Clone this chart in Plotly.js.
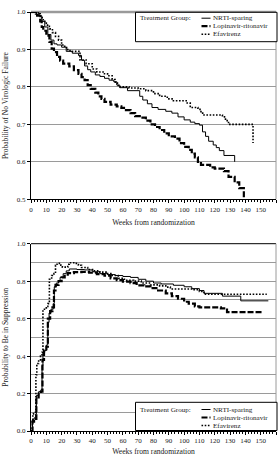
<!DOCTYPE html>
<html>
<head>
<meta charset="utf-8">
<script src="https://cdn.plot.ly/plotly-3.0.1.min.js"></script>
<style>
  html, body { margin: 0; padding: 0; background: #fff; }
  #chart { width: 280px; height: 456px; }
</style>
</head>
<body>
<div id="chart"></div>
<script>
// Kaplan-Meier estimates: probability of no virologic failure (weeks, probability)
const failNrtiWeeks = [0, 5, 7, 9, 11, 13, 15, 17, 20, 23, 27, 31, 33, 35, 37, 39, 42, 45, 48, 51, 54, 56, 58, 63, 71, 73, 76, 79, 83, 88, 92, 96, 100, 104, 107, 110, 112, 114, 116, 119, 121, 123, 126, 133];
const failNrtiProb  = [1.0, 0.99, 0.975, 0.96, 0.94, 0.925, 0.915, 0.912, 0.906, 0.895, 0.89, 0.884, 0.871, 0.856, 0.846, 0.84, 0.832, 0.828, 0.823, 0.818, 0.814, 0.805, 0.798, 0.79, 0.775, 0.765, 0.755, 0.745, 0.74, 0.735, 0.73, 0.72, 0.712, 0.706, 0.702, 0.698, 0.68, 0.668, 0.655, 0.645, 0.638, 0.63, 0.617, 0.60];

const failLpvWeeks = [0, 4, 6, 7, 8, 10, 12, 13.5, 15, 17, 19, 21, 25, 28, 31, 33, 35, 37, 39, 42, 44, 46, 48, 52, 56, 59, 62, 65, 68, 72, 75, 78, 81, 84, 87, 90, 94, 97, 100, 103, 105, 107, 109, 111, 117, 120, 126, 129, 133, 136, 139];
const failLpvProb  = [1.0, 0.99, 0.975, 0.96, 0.95, 0.937, 0.92, 0.902, 0.893, 0.88, 0.87, 0.862, 0.855, 0.845, 0.835, 0.826, 0.818, 0.805, 0.795, 0.785, 0.775, 0.768, 0.76, 0.753, 0.748, 0.744, 0.738, 0.73, 0.722, 0.718, 0.71, 0.70, 0.693, 0.685, 0.676, 0.668, 0.662, 0.65, 0.64, 0.632, 0.622, 0.612, 0.60, 0.592, 0.585, 0.582, 0.575, 0.56, 0.545, 0.53, 0.50];

const failEfvWeeks = [0, 3, 6, 8, 10, 12, 14, 16, 18, 20, 22, 24, 27, 32, 36, 40, 43, 48, 50, 53, 55, 57, 64, 70, 75, 80, 84, 89, 93, 102, 104, 109, 111, 113, 125, 127, 129, 145];
const failEfvProb  = [1.0, 0.995, 0.985, 0.975, 0.965, 0.955, 0.945, 0.935, 0.925, 0.912, 0.905, 0.897, 0.895, 0.872, 0.862, 0.848, 0.84, 0.835, 0.83, 0.82, 0.81, 0.80, 0.797, 0.795, 0.79, 0.782, 0.775, 0.768, 0.763, 0.757, 0.745, 0.74, 0.73, 0.725, 0.72, 0.71, 0.70, 0.70];
const failEfvEnd   = 0.65;

// Probability to be in suppression (weeks, probability)
const suppNrtiWeeks = [0, 1, 2, 3, 3.5, 5, 6.5, 7.2, 7.8, 9, 10.2, 11, 11.8, 13, 14.5, 15.2, 16.5, 18, 19, 21, 23, 25, 30, 35, 40, 45, 50, 55, 60, 65, 70, 75, 80, 85, 93, 100, 105, 110, 113, 125, 137, 155];
const suppNrtiProb  = [0, 0.06, 0.07, 0.09, 0.19, 0.21, 0.22, 0.35, 0.42, 0.43, 0.46, 0.58, 0.63, 0.65, 0.68, 0.77, 0.79, 0.80, 0.82, 0.84, 0.855, 0.865, 0.862, 0.86, 0.85, 0.84, 0.835, 0.83, 0.825, 0.82, 0.81, 0.80, 0.79, 0.785, 0.778, 0.77, 0.76, 0.75, 0.735, 0.72, 0.695, 0.695];

const suppLpvWeeks = [0, 1, 2, 3.5, 5, 6.5, 7.5, 8.5, 10, 11, 12.5, 14, 15, 16, 18, 20, 22, 24, 28, 33, 38, 43, 48, 52, 56, 60, 65, 69, 74, 78, 83, 88, 92, 96, 100, 103, 107, 110, 124, 128, 151];
const suppLpvProb  = [0, 0.05, 0.065, 0.18, 0.2, 0.21, 0.38, 0.43, 0.45, 0.6, 0.64, 0.66, 0.75, 0.78, 0.80, 0.82, 0.835, 0.843, 0.848, 0.85, 0.845, 0.838, 0.83, 0.815, 0.805, 0.798, 0.79, 0.778, 0.772, 0.763, 0.75, 0.735, 0.72, 0.706, 0.69, 0.68, 0.665, 0.66, 0.655, 0.635, 0.635];

const suppEfvWeeks = [0, 0.8, 1.2, 1.6, 3.2, 3.8, 5, 6.2, 7.2, 7.8, 10, 11, 12, 13.5, 15, 16, 17, 19.5, 20.5, 24, 25, 29, 31, 33, 37, 41, 45, 49, 53, 57, 61, 67, 72, 78, 84, 88, 91, 106, 110, 113, 154];
const suppEfvProb  = [0, 0.05, 0.09, 0.10, 0.30, 0.36, 0.38, 0.40, 0.42, 0.65, 0.665, 0.68, 0.81, 0.83, 0.84, 0.885, 0.895, 0.885, 0.875, 0.89, 0.898, 0.895, 0.885, 0.873, 0.862, 0.855, 0.848, 0.84, 0.83, 0.815, 0.805, 0.80, 0.79, 0.78, 0.775, 0.768, 0.758, 0.755, 0.745, 0.73, 0.73];

const groupNames = ['NRTI-sparing', 'Lopinavir-ritonavir', 'Efavirenz'];
const legendHeading = 'Treatment Group:';
const xTitle = 'Weeks from randomization';
const yTitleTop = 'Probability of No Virologic Failure';
const yTitleBottom = 'Probability to Be in Suppression';

// Line styles per treatment group
const styles = [
  { color: '#000', width: 1, dash: 'solid' },
  { color: '#000', width: 2.2, dash: '6px,2px' },
  { color: '#000', width: 1.6, dash: '1.6px,1.6px' }
];

const W = 280, H = 456;
const M = { l: 31, r: 4, t: 12, b: 25 };
const plotW = W - M.l - M.r, plotH = H - M.t - M.b;
// pixel -> paper coordinates for decorations
const px = x => (x - M.l) / plotW;
const py = y => (H - M.b - y) / plotH;

const FONT = 'Liberation Serif, Times New Roman, serif';
const TXT = '#222';

function stepTrace(x, y, style, xa, ya) {
  return {
    x: x, y: y, xaxis: xa, yaxis: ya,
    type: 'scatter', mode: 'lines',
    line: { shape: 'hv', color: style.color, width: style.width, dash: style.dash },
    showlegend: false, hoverinfo: 'skip'
  };
}

const traces = [
  stepTrace(failNrtiWeeks, failNrtiProb, styles[0], 'x', 'y'),
  stepTrace(failLpvWeeks, failLpvProb, styles[1], 'x', 'y'),
  stepTrace(failEfvWeeks.concat([failEfvWeeks[failEfvWeeks.length - 1]]), failEfvProb.concat([failEfvEnd]), styles[2], 'x', 'y'),
  stepTrace(suppNrtiWeeks, suppNrtiProb, styles[0], 'x2', 'y2'),
  stepTrace(suppLpvWeeks, suppLpvProb, styles[1], 'x2', 'y2'),
  stepTrace(suppEfvWeeks, suppEfvProb, styles[2], 'x2', 'y2')
];
traces.forEach((t, i) => { t.name = groupNames[i % 3]; });

const topDomain = [py(199.3), 1];
const botDomain = [0, py(243.7)];

function xAxis(anchor) {
  return {
    anchor: anchor, domain: [0, 1], range: [0, 160], dtick: 10, tick0: 0,
    showgrid: false, zeroline: false, showline: true, linecolor: '#000', linewidth: 1,
    ticks: 'outside', ticklen: 3, tickcolor: '#000', tickwidth: 1,
    minor: { dtick: 2, ticks: 'outside', ticklen: 2, tickcolor: '#000', showgrid: false },
    tickfont: { family: FONT, size: 7, color: TXT },
    title: { text: xTitle, font: { family: FONT, size: 7.6, color: TXT }, standoff: 6 },
    automargin: false, fixedrange: true
  };
}

const layout = {
  width: W, height: H, margin: M,
  paper_bgcolor: '#fff', plot_bgcolor: '#fff',
  showlegend: false,
  font: { family: FONT, color: TXT },
  xaxis: xAxis('y'),
  xaxis2: xAxis('y2'),
  yaxis: {
    anchor: 'x', domain: topDomain, range: [0.5, 1.0], dtick: 0.1, tick0: 0.5, tickformat: '.1f',
    showgrid: true, gridcolor: '#9a9a9a', gridwidth: 1, zeroline: false,
    showline: true, linecolor: '#000', ticks: 'outside', ticklen: 3, tickcolor: '#000',
    tickfont: { family: FONT, size: 7, color: TXT },
    title: { text: yTitleTop, font: { family: FONT, size: 7.6, color: TXT }, standoff: 7 },
    automargin: false, fixedrange: true
  },
  yaxis2: {
    anchor: 'x2', domain: botDomain, range: [0, 1.0], dtick: 0.2, tick0: 0, tickformat: '.1f',
    showgrid: true, gridcolor: '#9a9a9a', gridwidth: 1, zeroline: false,
    minor: { dtick: 0.1, showgrid: true, gridcolor: '#9a9a9a', gridwidth: 1, ticks: '' },
    showline: true, linecolor: '#000', ticks: 'outside', ticklen: 3, tickcolor: '#000',
    tickfont: { family: FONT, size: 7, color: TXT },
    title: { text: yTitleBottom, font: { family: FONT, size: 7.6, color: TXT }, standoff: 7 },
    automargin: false, fixedrange: true
  },
  shapes: [],
  annotations: []
};

// frame: top edge and right edge of each panel
layout.shapes.push(
  { type: 'line', layer: 'below', xref: 'x domain', yref: 'y domain', x0: 0, x1: 1, y0: 1, y1: 1, line: { color: '#9a9a9a', width: 2.5 } },
  { type: 'line', layer: 'below', xref: 'x domain', yref: 'y domain', x0: 1, x1: 1, y0: 0, y1: 1, line: { color: '#9a9a9a', width: 1 } },
  { type: 'line', layer: 'below', xref: 'x2 domain', yref: 'y2 domain', x0: 0, x1: 1, y0: 1, y1: 1, line: { color: '#000', width: 1 } },
  { type: 'line', layer: 'below', xref: 'x2 domain', yref: 'y2 domain', x0: 1, x1: 1, y0: 0, y1: 1, line: { color: '#9a9a9a', width: 1 } }
);

// boxed key for each panel
const KEY_FONT = { family: FONT, size: 7.1, color: TXT };
function addKey(top, bottom, rows) {
  layout.shapes.push({
    type: 'rect', xref: 'paper', yref: 'paper',
    x0: px(135.5), x1: px(277), y0: py(bottom), y1: py(top),
    line: { color: '#000', width: 1 }, fillcolor: '#fff', layer: 'above'
  });
  layout.annotations.push({
    xref: 'paper', yref: 'paper', x: px(138.5), y: py(rows[0]),
    xanchor: 'left', yanchor: 'middle', showarrow: false, borderpad: 0,
    text: legendHeading, font: KEY_FONT
  });
  groupNames.forEach((name, i) => {
    layout.shapes.push({
      type: 'line', xref: 'paper', yref: 'paper',
      x0: px(201.5), x1: px(210.5), y0: py(rows[i]), y1: py(rows[i]),
      line: { color: styles[i].color, width: styles[i].width, dash: styles[i].dash }, layer: 'above'
    });
    layout.annotations.push({
      xref: 'paper', yref: 'paper', x: px(211.5), y: py(rows[i]),
      xanchor: 'left', yanchor: 'middle', showarrow: false, borderpad: 0,
      text: name, font: KEY_FONT
    });
  });
}
addKey(12.3, 41.7, [18.2, 26.2, 34.2]);
addKey(402.3, 430.5, [409.5, 417.5, 425.5]);

Plotly.newPlot('chart', traces, layout, { staticPlot: true, displayModeBar: false });
</script>
</body>
</html>
